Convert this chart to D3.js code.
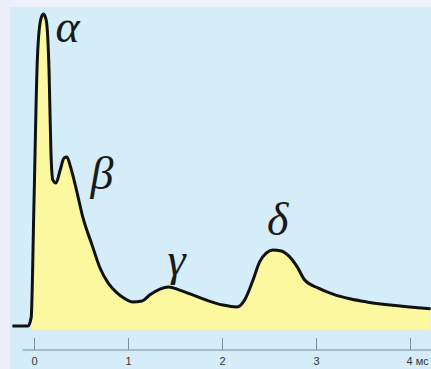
<!DOCTYPE html>
<html>
<head>
<meta charset="utf-8">
<script src="https://d3js.org/d3.v7.min.js"></script>
<style>
  body { margin: 0; background: #edf0fa; }
  svg { display: block; }
  .axis text { font-family: "Liberation Sans", Arial, sans-serif; font-size: 11px; fill: #333; }
  .axis line, .axis path { stroke: #7d8c99; }
  .greek { font-family: "Liberation Serif", "Times New Roman", serif; font-style: italic; font-size: 46px; fill: #1a1a1a; }
</style>
</head>
<body>
<svg id="chart" width="431" height="369"></svg>
<script>
// time in ms, amplitude in relative units (alpha peak = 100)
var times = [-0.23, -0.064, -0.03, 0, 0.035, 0.07, 0.1, 0.13, 0.16, 0.18, 0.2, 0.234, 0.277, 0.32, 0.35, 0.39, 0.45, 0.52, 0.62, 0.70, 0.79, 0.88, 0.97, 1.05, 1.15, 1.23, 1.34, 1.43, 1.55, 1.77, 2.01, 2.16, 2.24, 2.33, 2.40, 2.47, 2.54, 2.63, 2.71, 2.80, 2.88, 3.02, 3.18, 3.36, 3.54, 3.79, 4.22];
var amps  = [0.3, 0.3, 3, 40, 85, 98, 100, 98, 82, 56, 47, 46, 50, 54, 54.3, 51, 44, 35, 26, 19, 14, 11, 9, 8, 8.3, 10.2, 12.1, 12.8, 11.8, 9.3, 7, 6.4, 8.6, 15, 20.8, 23.6, 24.6, 24.3, 22.7, 19.2, 15, 12.5, 10.5, 9, 8, 7, 5.8];

var waveNames = ["α", "β", "γ", "δ"];
var waveT     = [0.23, 0.6, 1.42, 2.48];
var waveA     = [91, 44, 16.6, 29.4];

var tickValues = [0, 1, 2, 3, 4];
var tickLabels = ["0", "1", "2", "3", "4 мс"];

var svg = d3.select("#chart");

// light blue panel
svg.append("rect")
    .attr("x", 10).attr("y", 7)
    .attr("width", 421).attr("height", 362)
    .attr("fill", "#d5edf9");

var x = d3.scaleLinear().domain([0, 4]).range([34, 410]);
var y = d3.scaleLinear().domain([0, 100]).range([327, 14]);

var points = times.map(function(t, i) { return [t, amps[i]]; });

var area = d3.area()
    .x(function(d) { return x(d[0]); })
    .y0(y(-1))
    .y1(function(d) { return y(d[1]); })
    .curve(d3.curveMonotoneX);

var line = d3.line()
    .x(function(d) { return x(d[0]); })
    .y(function(d) { return y(d[1]); })
    .curve(d3.curveMonotoneX);

svg.append("path")
    .attr("d", area(points.filter(function(d) { return d[0] >= -0.045; })))
    .attr("fill", "#fcf8a0");

svg.append("path")
    .attr("d", line(points))
    .attr("fill", "none")
    .attr("stroke", "#111")
    .attr("stroke-width", 3)
    .attr("stroke-linejoin", "round");

// greek wave labels
waveNames.forEach(function(n, i) {
    svg.append("text")
        .attr("class", "greek")
        .attr("x", x(waveT[i]))
        .attr("y", y(waveA[i]))
        .text(n);
});

// time axis
var xAxis = d3.axisBottom(x)
    .tickValues(tickValues)
    .tickFormat(function(d, i) { return tickLabels[i]; })
    .tickSizeInner(-12)
    .tickSizeOuter(0)
    .tickPadding(7);

var g = svg.append("g")
    .attr("class", "axis")
    .attr("transform", "translate(0,350)")
    .call(xAxis);

g.select(".domain").remove();
g.append("line")
    .attr("x1", x(-0.12)).attr("x2", 431)
    .attr("y1", 0).attr("y2", 0);
g.selectAll(".tick text").filter(function(d) { return d === 4; })
    .attr("text-anchor", "start")
    .attr("dx", "-4");
</script>
</body>
</html>
